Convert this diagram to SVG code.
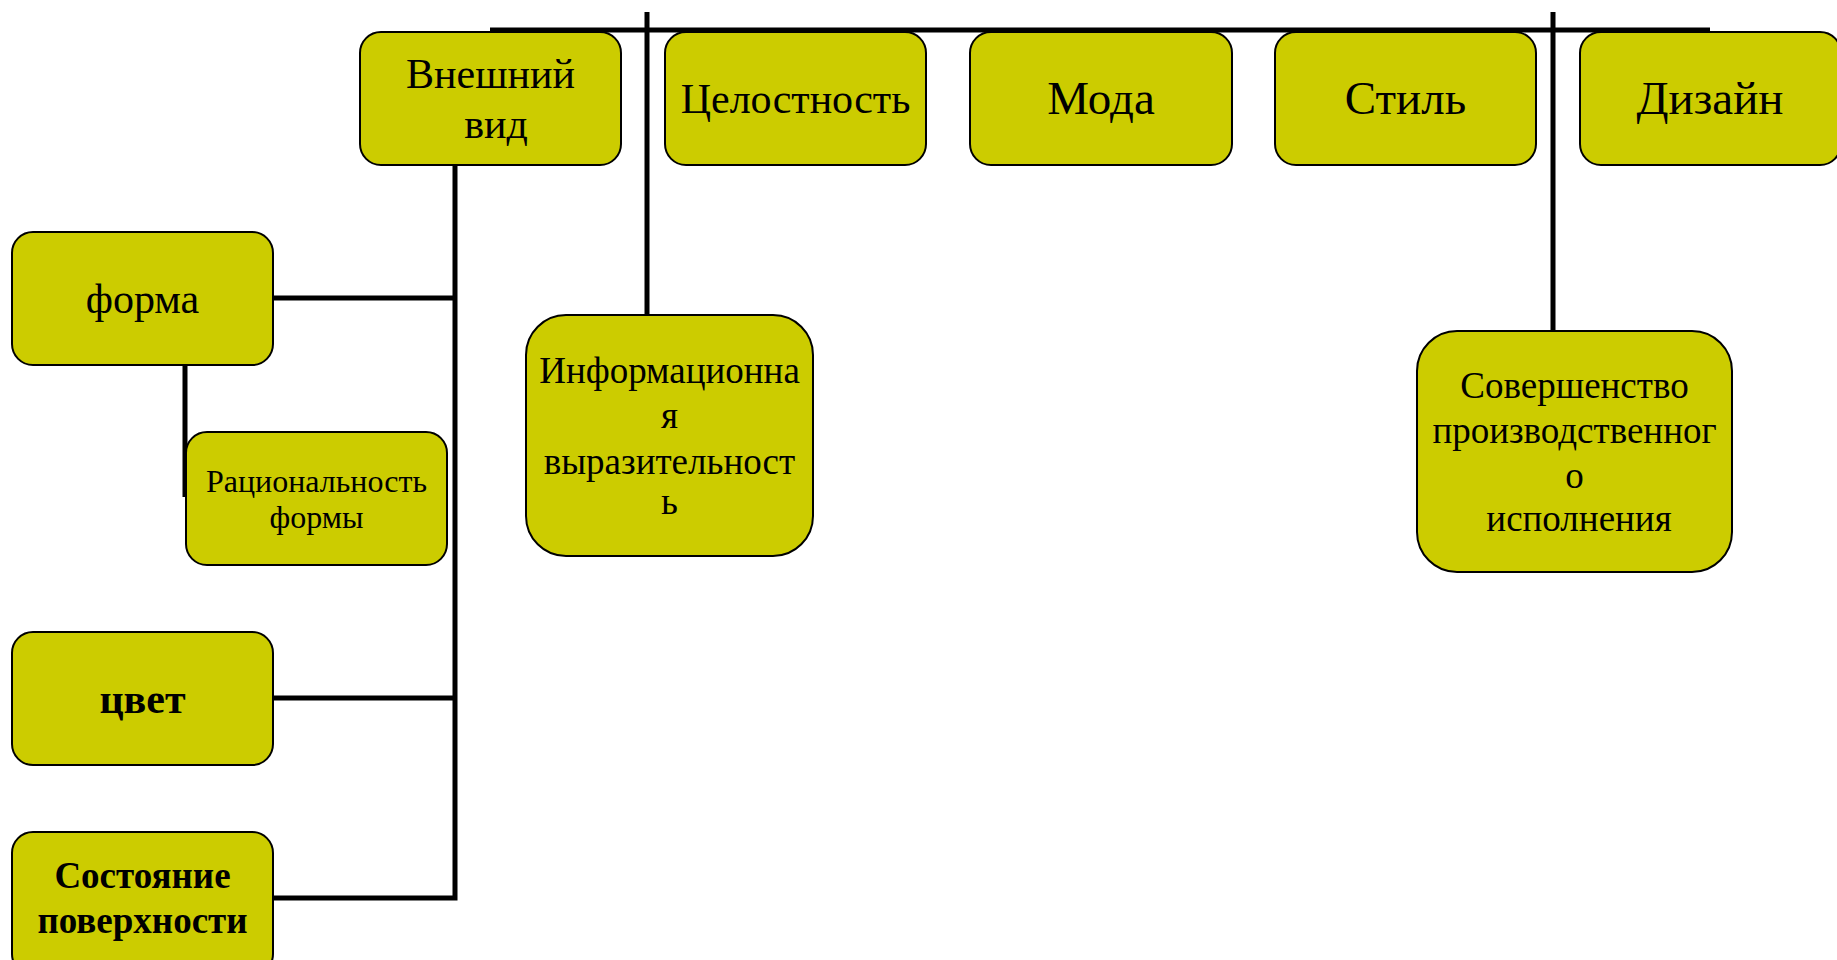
<svg xmlns="http://www.w3.org/2000/svg" width="1837" height="960" viewBox="0 0 1837 960">
  <style>
    .box { fill: #CCCC00; stroke: #000000; stroke-width: 2; }
    .wire { fill: none; stroke: #000000; stroke-width: 5; }
    text { font-family: "Liberation Serif", "Times New Roman", serif; fill: #000000; text-anchor: middle; }
    .t42 { font-size: 42px; }
    .t47 { font-size: 47px; }
    .t32 { font-size: 32px; }
    .t37 { font-size: 37px; }
    .b42 { font-size: 42px; font-weight: bold; }
    .b37 { font-size: 37px; font-weight: bold; }
  </style>
  <rect width="1837" height="960" fill="#FFFFFF"/>

  <!-- connectors -->
  <g id="connectors">
    <line class="wire" x1="490" y1="30" x2="1710" y2="30"/>
    <line class="wire" x1="647" y1="12" x2="647" y2="315"/>
    <line class="wire" x1="1553" y1="12" x2="1553" y2="331"/>
    <polyline class="wire" points="455,165 455,898 273,898"/>
    <line class="wire" x1="273" y1="298" x2="455" y2="298"/>
    <line class="wire" x1="273" y1="698" x2="455" y2="698"/>
    <line class="wire" x1="185" y1="365" x2="185" y2="497"/>
  </g>

  <!-- top row -->
  <g id="node-vneshniy-vid">
    <rect class="box" x="360" y="32" width="261" height="133" rx="21"/>
    <text class="t42" x="490.5" y="88">Внешний</text>
    <text class="t42" x="496" y="138">вид</text>
  </g>
  <g id="node-celostnost">
    <rect class="box" x="665" y="32" width="261" height="133" rx="21"/>
    <text class="t42" x="795.5" y="113">Целостность</text>
  </g>
  <g id="node-moda">
    <rect class="box" x="970" y="32" width="262" height="133" rx="21"/>
    <text class="t47" x="1101" y="114">Мода</text>
  </g>
  <g id="node-stil">
    <rect class="box" x="1275" y="32" width="261" height="133" rx="21"/>
    <text class="t47" x="1405.5" y="114">Стиль</text>
  </g>
  <g id="node-dizain">
    <rect class="box" x="1580" y="32" width="261" height="133" rx="21"/>
    <text class="t47" x="1710" y="114">Дизайн</text>
  </g>

  <!-- left column -->
  <g id="node-forma">
    <rect class="box" x="12" y="232" width="261" height="133" rx="21"/>
    <text class="t42" x="142.5" y="313">форма</text>
  </g>
  <g id="node-racionalnost">
    <rect class="box" x="186" y="432" width="261" height="133" rx="21"/>
    <text class="t32" x="316.5" y="492">Рациональность</text>
    <text class="t32" x="316.5" y="528">формы</text>
  </g>
  <g id="node-cvet">
    <rect class="box" x="12" y="632" width="261" height="133" rx="21"/>
    <text class="b42" x="142.5" y="713">цвет</text>
  </g>
  <g id="node-sostoyanie">
    <rect class="box" x="12" y="832" width="261" height="143" rx="21"/>
    <text class="b37" x="142.5" y="888">Состояние</text>
    <text class="b37" x="142.5" y="933">поверхности</text>
  </g>

  <!-- lower nodes -->
  <g id="node-informacionnaya">
    <rect class="box" x="526" y="315" width="287" height="241" rx="40"/>
    <text class="t37" x="669.5" y="383">Информационна</text>
    <text class="t37" x="669.5" y="428">я</text>
    <text class="t37" x="669.5" y="474">выразительност</text>
    <text class="t37" x="669.5" y="514">ь</text>
  </g>
  <g id="node-sovershenstvo">
    <rect class="box" x="1417" y="331" width="315" height="241" rx="40"/>
    <text class="t37" x="1574.5" y="398">Совершенство</text>
    <text class="t37" x="1574.5" y="443">производственног</text>
    <text class="t37" x="1574.5" y="488">о</text>
    <text class="t37" x="1579" y="531">исполнения</text>
  </g>
</svg>
